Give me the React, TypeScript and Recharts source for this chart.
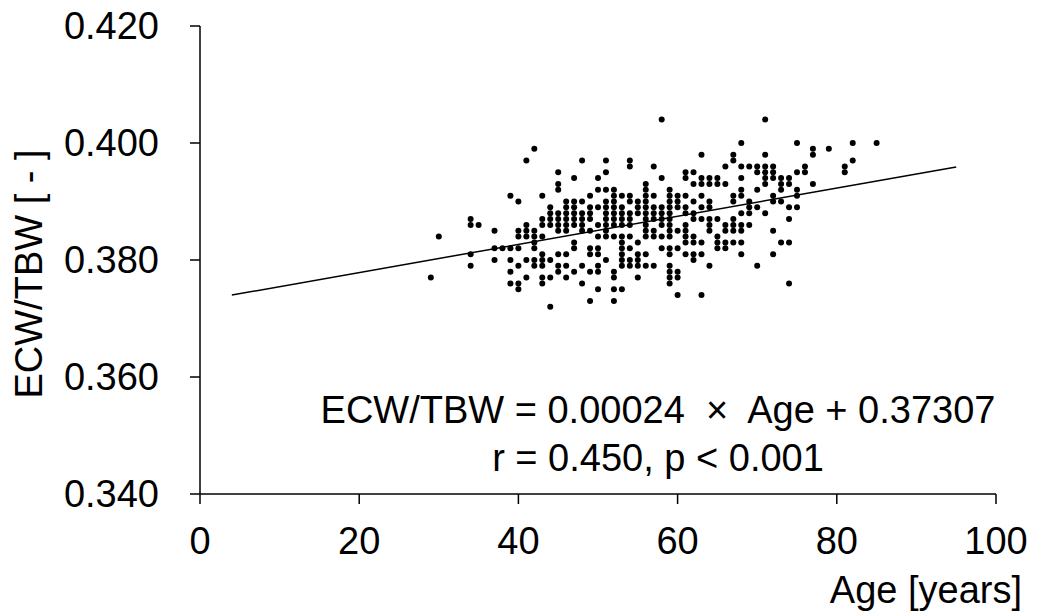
import { ScatterChart, Scatter, XAxis, YAxis } from "recharts";

const FONT = "'Liberation Sans', Arial, sans-serif";

const xTicks = [0, 20, 40, 60, 80, 100];
const yTicks = [0.34, 0.36, 0.38, 0.4, 0.42];

// age columns and the ECW/TBW readings in each (thousandths)
const ages = [
  29, 30, 34, 35, 37, 38, 39, 40, 41, 42, 43, 44, 45, 46, 47, 48, 49, 50, 51, 52,
  53, 54, 55, 56, 57, 58, 59, 60, 61, 62, 63, 64, 65, 66, 67, 68, 69, 70, 71, 72,
  73, 74, 75, 76, 77, 79, 81, 82, 85,
];
const ratios = [
  [377],
  [384],
  [387, 386, 381, 379],
  [386],
  [385, 382, 380],
  [382],
  [391, 382, 380, 378, 376],
  [390, 385, 384, 382, 379, 376, 375],
  [397, 386, 385, 384, 380, 377],
  [399, 385, 384, 383, 382, 380, 379],
  [391, 387, 386, 384, 381, 380, 379, 377, 376],
  [389, 388, 387, 386, 380, 377, 372],
  [395, 393, 392, 388, 387, 386, 385, 381, 379, 378],
  [390, 389, 388, 387, 386, 385, 381, 379, 377],
  [394, 390, 389, 388, 387, 386, 383, 382, 378],
  [397, 390, 388, 387, 386, 385, 379, 376],
  [391, 389, 388, 387, 385, 382, 381, 378, 373],
  [394, 392, 389, 386, 384, 382, 381, 379, 378, 375],
  [397, 395, 392, 390, 389, 388, 387, 386, 385, 384, 380],
  [392, 391, 390, 389, 388, 387, 386, 384, 378, 377, 375, 373],
  [391, 389, 388, 387, 386, 384, 383, 382, 381, 380, 379, 375],
  [397, 396, 391, 390, 388, 387, 386, 384, 382, 380, 379],
  [390, 389, 388, 383, 381, 380, 379, 377],
  [393, 392, 391, 390, 389, 388, 387, 386, 385, 384, 381, 379],
  [396, 391, 389, 388, 387, 385, 384, 379],
  [404, 394, 389, 388, 387, 386, 384, 382],
  [392, 391, 390, 389, 388, 387, 386, 385, 384, 382, 381, 379, 378, 377, 376],
  [391, 390, 389, 385, 382, 378, 377, 374],
  [395, 394, 391, 389, 388, 386, 385, 384, 383, 381],
  [395, 393, 390, 388, 387, 384, 383, 381, 380],
  [398, 394, 393, 391, 389, 387, 383, 381, 374],
  [394, 393, 390, 389, 387, 386, 385, 379],
  [394, 393, 387, 384, 383, 382],
  [396, 393, 386, 385, 383, 382],
  [398, 397, 391, 390, 387, 386, 385, 383],
  [400, 396, 394, 392, 391, 388, 386, 385, 383, 381],
  [396, 390, 389, 388, 386],
  [396, 395, 392, 389, 379],
  [404, 398, 396, 395, 394, 393, 388],
  [396, 395, 394, 391, 390, 385, 381],
  [394, 393, 392, 390, 383],
  [394, 393, 389, 387, 383, 376],
  [400, 395, 392, 391, 389],
  [396, 395],
  [399, 398, 393],
  [399],
  [396, 395],
  [400, 397],
  [400],
];

// regression line end points, as drawn
const fitLine = [
  { age: 4, ratio: 0.374 },
  { age: 95, ratio: 0.3959 },
];

const points = ages.flatMap((age, i) =>
  ratios[i].map((r) => ({ age, ratio: r / 1000 }))
);

const tickStyle = { fontSize: 38, fill: "#000", fontFamily: FONT };

export default function App() {
  return (
    <div style={{ position: "absolute", left: 0, top: 0, width: 1045, height: 612, background: "#fff" }}>
      <ScatterChart width={1045} height={612} margin={{ top: 26, right: 49, bottom: 0, left: 0 }}>
        <XAxis
          type="number"
          dataKey="age"
          domain={[0, 100]}
          ticks={xTicks}
          height={118}
          tickSize={10}
          tickMargin={23}
          tick={tickStyle}
          axisLine={{ stroke: "#000", strokeWidth: 1.5 }}
          tickLine={{ stroke: "#000", strokeWidth: 1.5 }}
          allowDataOverflow
        />
        <YAxis
          type="number"
          dataKey="ratio"
          domain={[0.34, 0.42]}
          ticks={yTicks}
          width={200}
          tickSize={10}
          tickMargin={31}
          tick={tickStyle}
          tickFormatter={(v: number) => v.toFixed(3)}
          axisLine={{ stroke: "#000", strokeWidth: 1.5 }}
          tickLine={{ stroke: "#000", strokeWidth: 1.5 }}
          allowDataOverflow
        />
        <Scatter
          data={fitLine}
          line={{ stroke: "#000", strokeWidth: 1.5 }}
          shape={() => <g />}
          isAnimationActive={false}
        />
        <Scatter
          data={points}
          shape={(p: any) => <circle cx={p.cx} cy={p.cy} r={3} fill="#000" />}
          isAnimationActive={false}
        />
      </ScatterChart>
      <svg
        width={1045}
        height={612}
        style={{ position: "absolute", left: 0, top: 0, pointerEvents: "none" }}
        fontFamily={FONT}
        fontSize={38}
        fill="#000"
      >
        <text transform="translate(42,274) rotate(-90)" textAnchor="middle">
          ECW/TBW [ - ]
        </text>
        <text x={1022} y={603} textAnchor="end">
          Age [years]
        </text>
        <text x={658} y={423} textAnchor="middle">
          {"ECW/TBW = 0.00024\u00a0 ×\u00a0 Age + 0.37307"}
        </text>
        <text x={658} y={471} textAnchor="middle">
          r = 0.450, p &lt; 0.001
        </text>
      </svg>
    </div>
  );
}
